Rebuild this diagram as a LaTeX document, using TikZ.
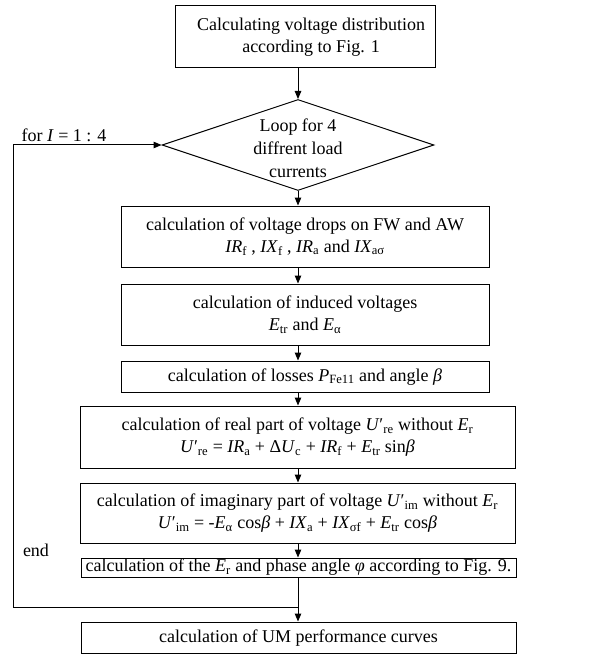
\documentclass[tikz,border=0pt]{standalone}
\usepackage{fontspec}
\setmainfont{Liberation Serif}
\usetikzlibrary{arrows.meta,shapes.geometric}
\newcommand\I[1]{\textit{#1}}
\newcommand\sub[1]{\textsubscript{#1}}
\newcommand\pr{′}
\begin{document}
\begin{tikzpicture}[x=1pt,y=-1pt,
  every node/.style={font=\fontsize{18}{22}\selectfont, inner sep=0pt},
  box/.style={draw, line width=1pt, align=center},
  line/.style={line width=1pt},
  arr/.style={line width=1pt, -{Triangle[length=8pt,width=6.5pt]}}]
\useasboundingbox (0,0) rectangle (589,655);

% process boxes
\node[box, minimum width=260, minimum height=62] (b1) at (305,37)
  {\hspace*{12pt}Calculating voltage distribution\\\hspace*{12pt}according to Fig. 1};
\node[draw, line width=1pt, diamond, minimum width=272, minimum height=91] (d) at (298,145) {};
\node[align=center, font=\fontsize{18}{23}\selectfont] (dt) at (298,148) {Loop for 4\\diffrent load\\currents};
\node[box, minimum width=368, minimum height=61] (b2) at (305,236.5)
  {calculation of voltage drops on FW and AW\\
   \I{IR}\sub{f} , \I{IX}\sub{f} , \I{IR}\sub{a} and \I{IX}\sub{aσ}};
\node[box, minimum width=368, minimum height=61] (b3) at (305,314.5)
  {calculation of induced voltages\\ \I{E}\sub{tr} and \I{E}\sub{α}};
\node[draw, line width=1pt, minimum width=368, minimum height=31, text height=13pt, text depth=4pt] (b4) at (305,376.5)
  {calculation of losses \I{P}\sub{Fe11} and angle \I{β}};
\node[box, minimum width=435, minimum height=62] (b5) at (297.5,437)
  {calculation of real part of voltage \I{U}\pr\sub{re} without \I{E}\sub{r}\\
   \I{U}\pr\sub{re} = \I{IR}\sub{a} + Δ\I{U}\sub{c} + \I{IR}\sub{f} + \I{E}\sub{tr} sin\I{β}};
\node[box, minimum width=435, minimum height=60] (b6) at (297.5,513)
  {calculation of imaginary part of voltage \I{U}\pr\sub{im} without \I{E}\sub{r}\\
   \I{U}\pr\sub{im} = -\I{E}\sub{α} cos\I{β} + \I{IX}\sub{a} + \I{IX}\sub{σf} + \I{E}\sub{tr} cos\I{β}};
\node[draw, line width=1pt, minimum width=435, minimum height=19, text height=12pt, text depth=3.5pt] (b7) at (298.5,567.5)
  {calculation of the \I{E}\sub{r} and phase angle \I{φ} according to Fig. 9.};
\node[draw, line width=1pt, minimum width=435, minimum height=31, text height=13pt, text depth=4pt] (b8) at (298.5,637.5)
  {calculation of UM performance curves};

% loop labels
\node (lfor) at (64,135) {for \I{I} = 1 : 4};
\node (lend) at (36,550) {end};

% main flow
\draw[arr] (d.north |- b1.south) -- (d.north);
\draw[arr] (d.south) -- (d.south |- b2.north);
\draw[arr] (d.south |- b2.south) -- (d.south |- b3.north);
\draw[arr] (d.south |- b3.south) -- (d.south |- b4.north);
\draw[arr] (d.south |- b4.south) -- (d.south |- b5.north);
\draw[arr] (d.south |- b5.south) -- (d.south |- b6.north);
\draw[arr] (d.south |- b6.south) -- (d.south |- b7.north);
\draw[arr] (d.south |- b7.south) -- (d.south |- b8.north);

% feedback loop back to the decision
\coordinate (join) at (298,607);
\coordinate (corner) at (13,607);
\draw[line] (join) -- (corner);
\draw[arr] (corner) |- (d.west);
\end{tikzpicture}
\end{document}
